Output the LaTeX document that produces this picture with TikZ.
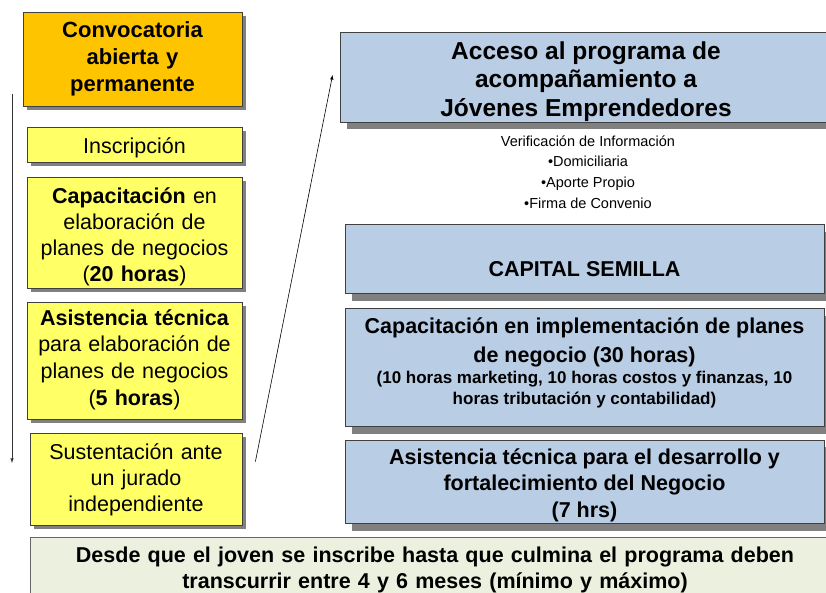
\documentclass[tikz,border=0pt]{standalone}
\usepackage{fontspec}
\setmainfont{Liberation Sans}
\usepackage{xcolor}
\usetikzlibrary{positioning,shadows,arrows}

\definecolor{naranja}{HTML}{FFC400}
\definecolor{amarillo}{HTML}{FFFF66}
\definecolor{azulcaja}{HTML}{B9CDE5}
\definecolor{verdecaja}{HTML}{EBF1DE}
\definecolor{borde}{HTML}{404040}

\tikzset{
caja/.style={draw=borde, line width=0.8pt, align=center, inner sep=2pt},
amarilla/.style={caja, fill=amarillo, text width=211pt,
  font=\fontsize{21.5}{26}\selectfont,
  drop shadow={shadow xshift=3.5pt, shadow yshift=-3.5pt, fill=black!50, opacity=1}},
azul/.style={caja, fill=azulcaja, minimum width=479pt,
  font=\bfseries\fontsize{21.5}{26.5}\selectfont,
  drop shadow={shadow xshift=7pt, shadow yshift=-7pt, fill=black!50, opacity=1}},
}
\newcommand{\subir}[1]{\rule{0pt}{#1}}
\newcommand{\bajar}[1]{\rule[-#1]{0pt}{#1}}

\begin{document}
\begin{tikzpicture}[x=1pt,y=-1pt]
\useasboundingbox (0,0) rectangle (826,592);
\clip (0,0) rectangle (826,592);
% columna izquierda
\node(conv) [amarilla, fill=naranja, text width=215pt, minimum height=94pt,
  font=\bfseries\fontsize{22}{27}\selectfont] at (132.5,59) {Convocatoria\\abierta y\\permanente};
\node(insc) [amarilla, minimum height=35pt, below=21pt of conv.south east, anchor=north east] {\subir{20pt}Inscripción};
\node(capa) [amarilla, minimum height=110pt, below=14pt of insc.south east, anchor=north east]
  {\subir{24pt}\textbf{Capacitación} en\\elaboración de\\planes de negocios\\(\textbf{20 horas})};
\node(asis) [amarilla, minimum height=117pt, below=14pt of capa.south east, anchor=north east,
  font=\fontsize{21.5}{26.7}\selectfont]
  {\textbf{Asistencia técnica}\\para elaboración de\\planes de negocios\\(\textbf{5 horas})\bajar{8pt}};
\node(sust) [amarilla, text width=208pt, minimum height=92pt, below=13pt of asis.south east, anchor=north east]
  {Sustentación ante\\un jurado\\independiente};
% columna derecha
\node(acceso) [azul, minimum width=492pt, minimum height=90pt, inner ysep=0pt,
  font=\bfseries\fontsize{24.5}{28.5}\selectfont] at (586,77)
  {\subir{26.5pt}Acceso al programa de\\acompañamiento a\\Jóvenes Emprendedores};
\node(verif) [align=center, font=\fontsize{14.5}{20.7}\selectfont] at (588,172)
  {Verificación de Información\\•Domiciliaria\\•Aporte Propio\\•Firma de Convenio};
\node(capital) [azul, minimum height=69pt, text height=35pt, text depth=0pt,
  below=102pt of acceso.south west, anchor=north west, xshift=5pt] {CAPITAL SEMILLA};
\node(impl) [azul, minimum height=118pt, below=14pt of capital, font=\bfseries\fontsize{21.5}{28.4}\selectfont]
  {Capacitación en implementación de planes\\de negocio (30 horas)\\[-7pt]
  {\fontsize{17}{21}\selectfont(10 horas marketing, 10 horas costos y finanzas, 10}\\[-7.5pt]
  {\fontsize{17}{21}\selectfont horas tributación y contabilidad)}\bajar{13pt}};
\node(asisneg) [azul, minimum height=83pt, below=13pt of impl]
  {\subir{22pt}Asistencia técnica para el desarrollo y\\fortalecimiento del Negocio\\(7 hrs)};
% nota inferior
\node(nota) [caja, draw=black!60, fill=verdecaja, text width=806pt, minimum height=64pt,
  font=\bfseries\fontsize{21.5}{26}\selectfont, below=11pt of sust.south west, anchor=north west]
  {Desde que el joven se inscribe hasta que culmina el programa deben\\transcurrir entre 4 y 6 meses (mínimo y máximo)};
% flechas
\coordinate(ini) at (12,94);
\coordinate(fin) at (12,463);
\coordinate(salida) at ([xshift=13pt,yshift=18pt]sust.east);
\coordinate(llegada) at ([xshift=-7pt,yshift=2pt]acceso.west);
\draw[-latex, line width=0.6pt, black!80] (ini) -- (fin);
\draw[-latex, line width=0.6pt] (salida) -- (llegada);
\end{tikzpicture}
\end{document}
